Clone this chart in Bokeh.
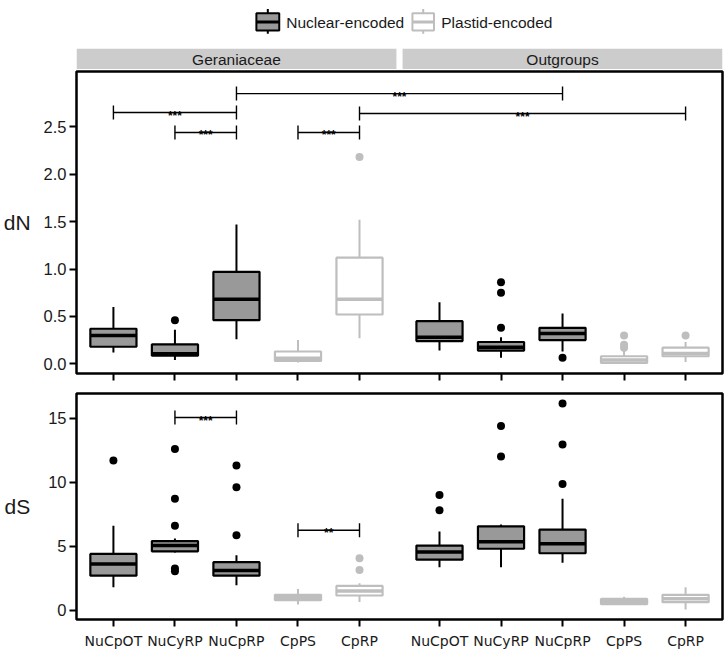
from bokeh.plotting import figure
from bokeh.models import Range1d, FixedTicker, PrintfTickFormatter, Label, ColumnDataSource
from bokeh.layouts import column
from bokeh.embed import file_html
from bokeh.resources import INLINE
from bokeh.core.properties import value

# ---------------- data ----------------
categories = ["NuCpOT", "NuCyRP", "NuCpRP", "CpPS", "CpRP",
              "NuCpOT", "NuCyRP", "NuCpRP", "CpPS", "CpRP"]
facet_names = ["Geraniaceae", "Outgroups"]
facet_of = [0, 0, 0, 0, 0, 1, 1, 1, 1, 1]
encoding = ["Nuclear", "Nuclear", "Nuclear", "Plastid", "Plastid",
            "Nuclear", "Nuclear", "Nuclear", "Plastid", "Plastid"]
legend_labels = ["Nuclear-encoded", "Plastid-encoded"]
xpos = [1, 2, 3, 4, 5, 6.3, 7.3, 8.3, 9.3, 10.3]

# dN panel
dn_lo = [0.12, 0.04, 0.26, 0.015, 0.27, 0.14, 0.065, 0.13, 0.005, 0.02]
dn_q1 = [0.18, 0.085, 0.46, 0.03, 0.52, 0.24, 0.14, 0.25, 0.01, 0.08]
dn_med = [0.30, 0.105, 0.68, 0.06, 0.68, 0.28, 0.175, 0.32, 0.04, 0.11]
dn_q3 = [0.37, 0.205, 0.97, 0.13, 1.12, 0.45, 0.23, 0.38, 0.08, 0.17]
dn_hi = [0.60, 0.36, 1.47, 0.25, 1.52, 0.65, 0.28, 0.53, 0.14, 0.23]
dn_out = [[], [0.46], [], [], [2.18], [], [0.38, 0.75, 0.86], [0.065], [0.17, 0.20, 0.30], [0.30]]
dn_ticks = [0.0, 0.5, 1.0, 1.5, 2.0, 2.5]
# brackets: (from index, to index, y, label)
dn_brk_from = [0, 1, 2, 3, 4]
dn_brk_to = [2, 2, 7, 4, 9]
dn_brk_y = [2.65, 2.44, 2.85, 2.44, 2.64]
dn_brk_lab = ["***", "***", "***", "***", "***"]

# dS panel
ds_lo = [1.8, 4.5, 1.95, 0.45, 0.65, 3.35, 3.35, 3.7, 0.40, 0.05]
ds_q1 = [2.7, 4.6, 2.7, 0.78, 1.15, 3.95, 4.8, 4.45, 0.47, 0.63]
ds_med = [3.6, 5.05, 3.1, 0.98, 1.5, 4.55, 5.35, 5.2, 0.70, 0.90]
ds_q3 = [4.4, 5.4, 3.75, 1.2, 1.9, 5.05, 6.55, 6.3, 0.88, 1.2]
ds_hi = [6.6, 5.6, 4.3, 1.65, 2.1, 6.15, 6.7, 8.7, 1.05, 1.8]
ds_out = [[11.7], [3.05, 3.25, 6.6, 8.7, 12.6], [5.85, 9.6, 11.3], [], [3.15, 4.05],
          [7.8, 9.0], [12.0, 14.4], [9.85, 12.95, 16.15], [], []]
ds_ticks = [0, 5, 10, 15]
ds_brk_from = [1, 3]
ds_brk_to = [2, 4]
ds_brk_y = [15.05, 6.25]
ds_brk_lab = ["***", "**"]

# ---------------- style ----------------
W = 725
BL, BR = 72, 3
X0, X1 = 0.4, 10.9
FILL = {"Nuclear": "#999999", "Plastid": "white"}
LINE = {"Nuclear": "black", "Plastid": "#BEBEBE"}
TXT = "#1a1a1a"
SANS = "Liberation Sans"


def panel(lo, q1, med, q3, hi, outs, y0, y1, ticks, fmt, height, bt, bb, ylab, lab_standoff,
          bfrom, bto, by, blab, show_labels):
    p = figure(width=W, height=height, x_range=Range1d(X0, X1), y_range=Range1d(y0, y1),
               output_backend="svg", toolbar_location=None,
               min_border_left=BL, min_border_right=BR, min_border_top=bt, min_border_bottom=bb)
    frame_h = height - bt - bb
    p.xgrid.visible = False
    p.ygrid.visible = False
    p.outline_line_color = "black"
    p.outline_line_width = 2.5
    p.outline_line_alpha = 1.0

    src = ColumnDataSource(dict(
        x=xpos, xl=[x - 0.375 for x in xpos], xr=[x + 0.375 for x in xpos],
        lo=lo, q1=q1, med=med, q3=q3, hi=hi,
        fill=[FILL[e] for e in encoding], line=[LINE[e] for e in encoding]))
    p.segment(x0="x", y0="q3", x1="x", y1="hi", line_color="line", line_width=2, source=src)
    p.segment(x0="x", y0="q1", x1="x", y1="lo", line_color="line", line_width=2, source=src)
    p.vbar(x="x", width=0.75, bottom="q1", top="q3", fill_color="fill", line_color="line",
           line_width=2.2, source=src)
    p.segment(x0="xl", y0="med", x1="xr", y1="med", line_color="line", line_width=3.5,
              line_cap="butt", source=src)

    ox, oy, oc = [], [], []
    for i, vals in enumerate(outs):
        for v in vals:
            ox.append(xpos[i]); oy.append(v); oc.append(LINE[encoding[i]])
    p.scatter(x=ox, y=oy, size=8, fill_color=oc, line_color=oc, line_width=0)

    # significance brackets
    d = 7 * (y1 - y0) / frame_h
    bx0 = [xpos[i] for i in bfrom]
    bx1 = [xpos[j] for j in bto]
    p.segment(x0=bx0, y0=by, x1=bx1, y1=by, line_color="black", line_width=1.4)
    p.segment(x0=bx0 + bx1, y0=[y - d for y in by] * 2, x1=bx0 + bx1, y1=[y + d for y in by] * 2,
              line_color="black", line_width=1.4)
    p.text(x=[(a + b) / 2 for a, b in zip(bx0, bx1)], y=by, text=blab,
           text_align="center", text_baseline="alphabetic", y_offset=3,
           text_font=value(SANS), text_font_size="12px", text_font_style="bold",
           text_color="black")

    # axes
    p.xaxis.ticker = FixedTicker(ticks=xpos)
    if show_labels:
        p.xaxis.major_label_overrides = {x: c for x, c in zip(xpos, categories)}
    else:
        p.xaxis.major_label_overrides = {x: "" for x in xpos}
    p.yaxis.ticker = FixedTicker(ticks=ticks)
    p.yaxis.formatter = PrintfTickFormatter(format=fmt)
    for ax in p.axis:
        ax.axis_line_color = None
        ax.major_tick_line_color = "black"
        ax.major_tick_line_width = 2
        ax.major_tick_out = 7
        ax.major_tick_in = 0
        ax.minor_tick_line_color = None
        ax.major_label_text_color = TXT
    p.yaxis.major_label_text_font = SANS
    p.yaxis.major_label_text_font_size = "16.5px"
    p.yaxis.major_label_standoff = 3
    p.xaxis.major_label_text_font = "DejaVu Sans"
    if show_labels:
        p.xaxis.major_label_text_font_size = "14px"
        p.xaxis.major_label_standoff = 6
    else:
        p.xaxis.major_label_text_font_size = "1px"
        p.xaxis.major_label_standoff = 0

    try:
        p.yaxis.axis_label = ylab
        p.yaxis.axis_label_orientation = "horizontal"
        p.yaxis.axis_label_standoff = lab_standoff
        p.yaxis.axis_label_text_font = SANS
        p.yaxis.axis_label_text_font_size = "21px"
        p.yaxis.axis_label_text_font_style = "normal"
        p.yaxis.axis_label_text_color = TXT
    except AttributeError:
        p.yaxis.axis_label = None
        p.add_layout(Label(x=15 - BL, y=frame_h / 2, x_units="screen", y_units="screen",
                           text=ylab, text_align="center", text_baseline="middle",
                           text_font=SANS, text_font_size="21px", text_color=TXT))
    return p


# ---------------- header (legend + strips) ----------------
HH = 69
FW = W - BL - BR
h = figure(width=W, height=HH, x_range=Range1d(0, FW), y_range=Range1d(0, HH),
           x_axis_type=None, y_axis_type=None, output_backend="svg", toolbar_location=None,
           min_border_left=BL, min_border_right=BR, min_border_top=0, min_border_bottom=0)
h.xgrid.visible = False
h.ygrid.visible = False
h.outline_line_color = None


def to_px(xd):
    return (xd - X0) * FW / (X1 - X0)


f_lo, f_hi, f_mid = [], [], []
for k in range(len(facet_names)):
    idx = [i for i in range(len(xpos)) if facet_of[i] == k]
    a = xpos[idx[0]] - 0.6
    b = xpos[idx[-1]] + 0.6
    f_lo.append(to_px(a)); f_hi.append(to_px(b)); f_mid.append(to_px((a + b) / 2))
h.quad(left=f_lo, right=f_hi, bottom=0, top=20.7, fill_color="#cccccc", line_color=None)
h.text(x=f_mid, y=10.5, text=facet_names, text_align="center", text_baseline="middle",
       text_font=value(SANS), text_font_size="15.5px", text_color=TXT)

# legend keys (pixel layout inside the header)
key_l = [181, 338]
key_r = [204, 359.7]
key_t = [211, 367]
key_c = [FILL["Nuclear"], FILL["Plastid"]]
key_lc = [LINE["Nuclear"], LINE["Plastid"]]
key_m = [(a + b) / 2 for a, b in zip(key_l, key_r)]
h.segment(x0=key_m, y0=HH - 8.5, x1=key_m, y1=HH - 33.3, line_color=key_lc, line_width=2)
h.quad(left=key_l, right=key_r, bottom=HH - 30, top=HH - 12.7, fill_color=key_c,
       line_color=key_lc, line_width=2)
h.segment(x0=key_l, y0=HH - 21.5, x1=key_r, y1=HH - 21.5, line_color=key_lc, line_width=3)
h.text(x=key_t, y=HH - 21.5, text=legend_labels, text_align="left", text_baseline="middle",
       text_font=value(SANS), text_font_size="15.5px", text_color=TXT)

top = panel(dn_lo, dn_q1, dn_med, dn_q3, dn_hi, dn_out, -0.102, 3.083, dn_ticks, "%.1f",
            314, 2, 10, "dN", 10, dn_brk_from, dn_brk_to, dn_brk_y, dn_brk_lab, False)
bot = panel(ds_lo, ds_q1, ds_med, ds_q3, ds_hi, ds_out, -0.727, 16.93, ds_ticks, "%d",
            268, 10, 32, "dS", 15, ds_brk_from, ds_brk_to, ds_brk_y, ds_brk_lab, True)

layout = column(h, top, bot, spacing=0)
open("out.html", "w").write(file_html(layout, INLINE))
